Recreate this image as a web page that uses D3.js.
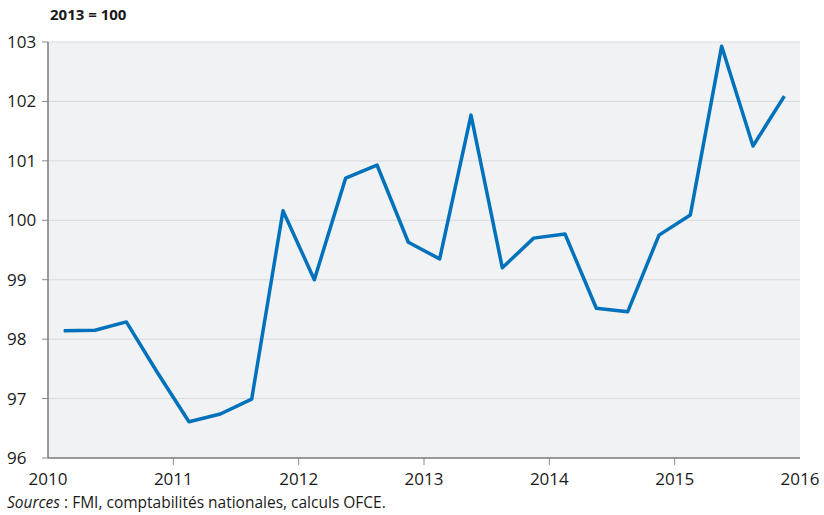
<!DOCTYPE html>
<html><head><meta charset="utf-8">
<script src="https://cdn.jsdelivr.net/npm/d3@7"></script>
<style>body{margin:0;background:#fff}svg{display:block}text{font-family:"Open Sans","Noto Sans",sans-serif}</style>
</head><body>
<svg id="c" width="824" height="515"></svg>
<script>
const quarters = ["2010T1","2010T2","2010T3","2010T4","2011T1","2011T2","2011T3","2011T4","2012T1","2012T2","2012T3","2012T4","2013T1","2013T2","2013T3","2013T4","2014T1","2014T2","2014T3","2014T4","2015T1","2015T2","2015T3","2015T4"];
const values = [98.14,98.15,98.29,97.43,96.61,96.74,96.99,100.16,99.0,100.71,100.93,99.63,99.35,101.77,99.2,99.70,99.77,98.52,98.46,99.75,100.09,102.93,101.25,102.09];
const yTicks = [96,97,98,99,100,101,102,103];
const xTicks = [2010,2011,2012,2013,2014,2015,2016];

const svg = d3.select("#c");
const L=48,R=800,T=42,B=458;
const x = d3.scaleLinear().domain([2010,2016]).range([L,R]);
const y = d3.scaleLinear().domain([96,103]).range([B,T]);
const qx = q => +q.slice(0,4) + (+q.slice(5)-0.5)/4;

svg.append("rect").attr("x",L).attr("y",T).attr("width",R-L).attr("height",B-T).attr("fill","#f0f2f4");

svg.append("g").selectAll("line").data(yTicks.slice(1)).join("line")
  .attr("x1",L).attr("x2",R).attr("y1",d=>y(d)).attr("y2",d=>y(d))
  .attr("stroke","#d8d9db").attr("stroke-width",1);

const ya = svg.append("g");
ya.selectAll("line").data(yTicks).join("line")
  .attr("x1",L-6).attr("x2",L).attr("y1",d=>y(d)).attr("y2",d=>y(d))
  .attr("stroke","#8a8a8a").attr("stroke-width",1);
ya.selectAll("text").data(yTicks).join("text")
  .attr("x",7).attr("y",d=>y(d)+6).attr("font-size",17).attr("fill","#1a1a1a").text(d=>d);

const xa = svg.append("g");
xa.selectAll("line").data(xTicks.slice(1,-1)).join("line")
  .attr("x1",d=>x(d)).attr("x2",d=>x(d)).attr("y1",B).attr("y2",B+7)
  .attr("stroke","#8a8a8a").attr("stroke-width",1);
xa.selectAll("text").data(xTicks).join("text")
  .attr("x",d=>x(d)).attr("y",B+27).attr("text-anchor","middle").attr("font-size",17).attr("fill","#1a1a1a").text(d=>d);

svg.append("line").attr("x1",L).attr("x2",L).attr("y1",T).attr("y2",B).attr("stroke","#7a7a7a").attr("stroke-width",1.5);
svg.append("line").attr("x1",L).attr("x2",R).attr("y1",B).attr("y2",B).attr("stroke","#7a7a7a").attr("stroke-width",1.5);

svg.append("path").datum(quarters.map((q,i)=>[qx(q),values[i]]))
  .attr("fill","none").attr("stroke","#0072bb").attr("stroke-width",3.5).attr("stroke-linejoin","round")
  .attr("d",d3.line().x(d=>x(d[0])).y(d=>y(d[1])));

svg.append("text").attr("x",50).attr("y",20).attr("font-size",15).attr("font-weight","bold").attr("fill","#1a1a1a").text("2013 = 100");
const s = svg.append("text").attr("x",7).attr("y",508).attr("font-size",15.5).attr("fill","#1a1a1a");
s.append("tspan").attr("font-style","italic").text("Sources");
s.append("tspan").text(" : FMI, comptabilités nationales, calculs OFCE.");
</script>
</body></html>
